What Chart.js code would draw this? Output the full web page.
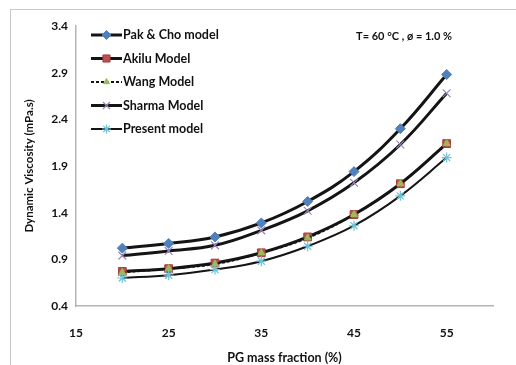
<!DOCTYPE html>
<html>
<head>
<meta charset="utf-8">
<script src="https://cdn.jsdelivr.net/npm/chart.js@4.4.1/dist/chart.umd.min.js"></script>
<style>
  html, body { margin: 0; padding: 0; background: #fff; }
  #wrap { position: relative; width: 516px; height: 365px; }
</style>
</head>
<body>
<div id="wrap"><canvas id="c" width="516" height="365"></canvas></div>
<script>
// PG mass fraction (%)
const pgFraction = [20, 25, 30, 35, 40, 45, 50, 55];

// Dynamic viscosity (mPa.s) predicted by each model at T = 60 °C, φ = 1.0 %
const pakCho  = [1.02, 1.07, 1.14, 1.29, 1.52, 1.84, 2.30, 2.88];
const akilu   = [0.77, 0.80, 0.86, 0.97, 1.14, 1.38, 1.71, 2.14];
const wang    = [0.76, 0.80, 0.85, 0.97, 1.13, 1.38, 1.71, 2.14];
const sharma  = [0.94, 0.99, 1.05, 1.21, 1.42, 1.72, 2.13, 2.68];
const present = [0.70, 0.73, 0.79, 0.88, 1.04, 1.26, 1.58, 1.99];

const seriesNames = ['Pak & Cho model', 'Akilu Model', 'Wang Model', 'Sharma Model', 'Present model'];

// Axis ticks
const xTicks = [15, 25, 35, 45, 55];
const yTicks = [0.4, 0.9, 1.4, 1.9, 2.4, 2.9, 3.4];

const FONT = 'Lato, "Open Sans", sans-serif';
const INK = '#111';

function pts(values) {
  return values.map((v, i) => ({ x: pgFraction[i], y: v }));
}

const datasets = [
  { label: seriesNames[0], data: pts(pakCho), order: 5,
    borderColor: '#141414', borderWidth: 3,
    pointStyle: 'rectRot', pointRadius: 5, pointBackgroundColor: '#4f81bd', pointBorderColor: '#4f81bd', pointBorderWidth: 1 },
  { label: seriesNames[1], data: pts(akilu), order: 4,
    borderColor: '#141414', borderWidth: 3,
    pointStyle: 'rect', pointRadius: 5.5, pointBackgroundColor: '#c0504d', pointBorderColor: '#a23c39', pointBorderWidth: 1 },
  { label: seriesNames[2], data: pts(wang), order: 3,
    borderColor: '#141414', borderWidth: 2, borderDash: [3, 2],
    pointStyle: 'triangle', pointRadius: 4, pointBackgroundColor: '#9bbb59', pointBorderColor: '#9bbb59', pointBorderWidth: 1 },
  { label: seriesNames[3], data: pts(sharma), order: 2,
    borderColor: '#141414', borderWidth: 3,
    pointStyle: 'crossRot', pointRadius: 5.5, pointBackgroundColor: '#8064a2', pointBorderColor: '#9a84bb', pointBorderWidth: 1.2 },
  { label: seriesNames[4], data: pts(present), order: 1,
    borderColor: '#141414', borderWidth: 2,
    pointStyle: 'star', pointRadius: 5, pointBackgroundColor: '#4bacc6', pointBorderColor: '#6cc3da', pointBorderWidth: 1.2 }
];
datasets.forEach(d => { d.tension = 0.4; d.fill = false; });

// Frame around the whole figure
const framePlugin = {
  id: 'frame',
  beforeDraw(chart) {
    const ctx = chart.ctx;
    ctx.save();
    ctx.fillStyle = '#fff';
    ctx.fillRect(0, 0, chart.width, chart.height);
    ctx.strokeStyle = '#c8c8c8';
    ctx.lineWidth = 1;
    ctx.strokeRect(10.5, 9.5, chart.width + 20, chart.height + 20);
    ctx.restore();
  }
};

// Legend with line + marker samples, plus condition note
const legendPlugin = {
  id: 'lineLegend',
  afterDatasetsDraw(chart) {
    const ctx = chart.ctx;
    const area = chart.chartArea;
    const x0 = area.left + 15, x1 = area.left + 46;
    let y = area.top + 9;
    ctx.save();
    chart.data.datasets.forEach(ds => {
      ctx.save();
      ctx.strokeStyle = ds.borderColor;
      ctx.lineWidth = ds.borderWidth;
      ctx.setLineDash(ds.borderDash || []);
      ctx.beginPath();
      ctx.moveTo(x0, y);
      ctx.lineTo(x1, y);
      ctx.stroke();
      ctx.restore();
      ctx.save();
      ctx.fillStyle = ds.pointBackgroundColor;
      ctx.strokeStyle = ds.pointBorderColor;
      ctx.lineWidth = ds.pointBorderWidth;
      Chart.helpers.drawPoint(ctx, { pointStyle: ds.pointStyle, radius: ds.pointRadius - 0.5, borderWidth: ds.pointBorderWidth, rotation: 0 }, (x0 + x1) / 2, y);
      ctx.restore();
      ctx.fillStyle = INK;
      ctx.font = 'bold 12.5px ' + FONT;
      ctx.textAlign = 'left';
      ctx.textBaseline = 'middle';
      ctx.fillText(ds.label, x1 + 1, y);
      y += 23.5;
    });
    ctx.font = 'bold 11px ' + FONT;
    ctx.textAlign = 'right';
    ctx.fillText('T= 60 °C , ø = 1.0 %', 452, area.top + 10);
    ctx.restore();
  }
};

new Chart(document.getElementById('c'), {
  type: 'line',
  data: { datasets },
  options: {
    responsive: false,
    animation: false,
    devicePixelRatio: 1,
    layout: { padding: { left: 0, right: 23, top: 26, bottom: 0 } },
    plugins: { legend: { display: false }, tooltip: { enabled: false } },
    scales: {
      x: {
        type: 'linear', min: 15, max: 60,
        afterBuildTicks(axis) { axis.ticks = xTicks.map(v => ({ value: v })); },
        afterFit(axis) { axis.height = 59; },
        grid: { display: false, drawTicks: false },
        border: { display: true, color: '#b4b4b4', width: 1.5 },
        ticks: { padding: 20, color: INK, font: { family: FONT, size: 12, weight: 'bold' } },
        title: { display: true, text: 'PG mass fraction (%)', color: INK,
                 font: { family: FONT, size: 12.5, weight: 'bold' }, padding: { top: 0, bottom: 0 } }
      },
      y: {
        type: 'linear', min: 0.4, max: 3.4,
        afterBuildTicks(axis) { axis.ticks = yTicks.map(v => ({ value: v })); },
        afterFit(axis) { axis.width = 76; },
        grid: { display: false, drawTicks: false },
        border: { display: true, color: '#b4b4b4', width: 1.5 },
        ticks: { padding: 8, color: INK, font: { family: FONT, size: 12, weight: 'bold' },
                 callback: v => v.toFixed(1) },
        title: { display: true, text: 'Dynamic Viscosity (mPa.s)', color: INK,
                 font: { family: FONT, size: 11.5, weight: 'bold' }, padding: { top: 22, bottom: 0 } }
      }
    }
  },
  plugins: [framePlugin, legendPlugin]
});
</script>
</body>
</html>
